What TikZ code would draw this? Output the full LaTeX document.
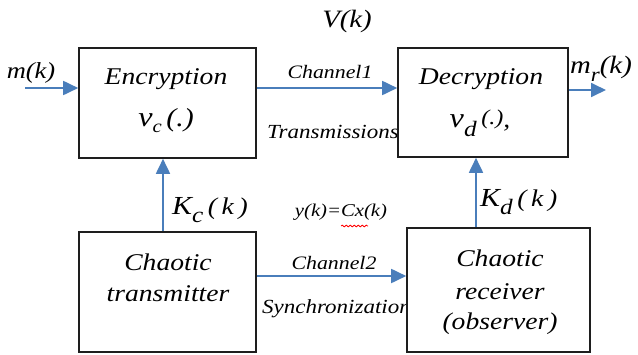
\documentclass[tikz,border=0pt]{standalone}
\usepackage{graphicx}
\usepackage{fontspec}
\setmainfont{Liberation Serif}
\usetikzlibrary{arrows.meta,decorations.pathmorphing}

\definecolor{linkblue}{HTML}{4A7EBB}
\definecolor{boxline}{HTML}{1E1E1E}
\newcommand\setfs[1]{\fontsize{#1}{#1}\selectfont}
% widen the Times-like italic a little
\newcommand\widetxt[1]{\scalebox{1.15}[1]{#1}}

\begin{document}
\begin{tikzpicture}[x=1pt,y=-1pt,
  block/.style={draw=boxline,line width=1.6pt,fill=white,inner sep=0pt},
  link/.style={draw=linkblue,line width=1.8pt,-{Triangle[length=15pt,width=14pt]}},
  txt/.style={inner sep=0pt,font=\itshape\setfs{24}},
  lbl/.style={inner sep=0pt,font=\itshape\setfs{19}},
  ]
\useasboundingbox (0,0) rectangle (638,354);

% channel captions that run under the block borders
\node[lbl,font=\itshape\setfs{20},anchor=east] (trans) at (399,132) {\widetxt{Transmissions}};
\node[lbl,font=\itshape\setfs{20},anchor=west] (sync) at (262,309) {\widetxt{Synchronization}};

% blocks
\node[block,minimum width=177pt,minimum height=110pt] (enc) at (167.5,103) {};
\node[block,minimum width=170pt,minimum height=109pt] (dec) at (483,102.5) {};
\node[block,minimum width=177pt,minimum height=120pt] (tx) at (167.5,292) {};
\node[block,minimum width=183pt,minimum height=124pt] (rx) at (498.5,290) {};

% block contents
\node[txt] (enct) at (166,79) {\widetxt{Encryption}};
\node[txt] (encf) at (166,121) {\widetxt{{\setfs{28}v}\raisebox{-6pt}{\setfs{18}c}\,{\setfs{26}(.)}}};
\node[txt] (dect) at (481,79) {\widetxt{Decryption}};
\node[txt] (decf) at (480,123) {\widetxt{{\setfs{28}v}\raisebox{-9pt}{\setfs{22}d}\,\raisebox{3pt}{\setfs{21}(.)},}};
\node[txt] (txa) at (168,262) {\widetxt{Chaotic}};
\node[txt] (txb) at (168,294) {\widetxt{transmitter}};
\node[txt] (rxa) at (500,258) {\widetxt{Chaotic}};
\node[txt] (rxb) at (500,292) {\widetxt{receiver}};
\node[txt] (rxc) at (500,324) {\widetxt{(observer)}};

% signal labels
\node[txt,font=\itshape\setfs{25}] (vk) at (347,21) {\widetxt{V(k)}};
\node[txt,font=\itshape\setfs{23}] (mk) at (31,73) {\widetxt{m(k)}};
\node[txt,anchor=west] (mrk) at (570,69) {\widetxt{{\setfs{25}m}\raisebox{-8pt}{\setfs{20}r}{\setfs{25}(k)}}};
\node[lbl] (ch1) at (330,72) {\widetxt{Channel1}};
\node[lbl,font=\itshape\setfs{18}] (yk) at (341,212) {\widetxt{y(k)=Cx(k)}};
\node[lbl] (ch2) at (334,263) {\widetxt{Channel2}};
\node[txt,anchor=west] (kc) at (172,210) {\widetxt{{\setfs{26}K}\raisebox{-8pt}{\setfs{22}c}\,{\setfs{24}(\,k\,)}}};
\node[txt,anchor=west] (kd) at (480,202) {\widetxt{{\setfs{26}K}\raisebox{-8pt}{\setfs{22}d}\,{\setfs{24}(\,k\,)}}};

% spelling squiggle under Cx
\draw[red,line width=0.8pt,decorate,decoration={snake,amplitude=0.9pt,segment length=4pt}]
  (341,226) -- (368,226);

% connectors
\coordinate (min) at (25,88);
\coordinate (mout) at (606,90);
\coordinate (kcx) at (163,0);
\coordinate (kdx) at (476,0);
\coordinate (syn) at (0,276);
\draw[link] (min) -- (min -| enc.west);
\draw[link] (enc.east |- min) -- (dec.west |- min);
\draw[link] (dec.east |- mout) -- (mout);
\draw[link] (tx.north -| kcx) -- (enc.south -| kcx);
\draw[link] (rx.north -| kdx) -- (dec.south -| kdx);
\draw[link] (tx.east |- syn) -- (rx.west |- syn);
\end{tikzpicture}
\end{document}
